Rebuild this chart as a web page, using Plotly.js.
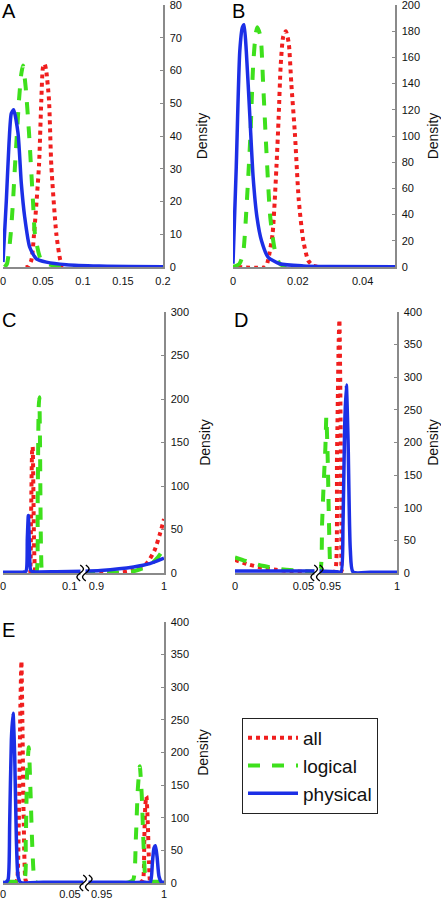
<!DOCTYPE html>
<html>
<head>
<meta charset="utf-8">
<script src="https://cdn.plot.ly/plotly-3.0.1.min.js"></script>
<style>html,body{margin:0;padding:0;background:#fff;}#chart{width:441px;height:899px;}</style>
</head>
<body>
<div id="chart"></div>
<script>
// ---- Series names ----
const seriesNames = ["all", "logical", "physical"];

// ---- Panel A (x 0..0.2, y 0..80) ----
const A_all_x = [0.028, 0.031, 0.0354, 0.0388, 0.045, 0.0479, 0.05, 0.052, 0.054, 0.0575, 0.0604, 0.0667, 0.0717, 0.075, 0.08];
const A_all_y = [0, 0, 2, 10, 31, 51, 61, 62, 60, 51, 31, 10, 2, 0, 0];
const A_log_x = [0.002, 0.005, 0.0096, 0.0125, 0.015, 0.0175, 0.02, 0.0229, 0.025, 0.0283, 0.0325, 0.0375, 0.04, 0.048, 0.0625, 0.09];
const A_log_y = [0, 1, 10, 20, 31, 41, 51, 59, 61.5, 55, 41, 20, 10, 2, 0.5, 0];
const A_phy_x = [0, 0.0042, 0.0075, 0.0104, 0.0133, 0.0188, 0.0229, 0.0271, 0.0333, 0.0417, 0.0542, 0.0792, 0.12, 0.2];
const A_phy_y = [1.5, 20.4, 37.7, 46.9, 48, 40.8, 25.5, 15.3, 6.1, 2.5, 1.5, 0.7, 0.3, 0.1];

// ---- Panel B (x 0..0.05, y 0..200) ----
const B_all_x = [0.0015, 0.0100, 0.0108, 0.0122, 0.0134, 0.0141, 0.0147, 0.0155, 0.0163, 0.0172, 0.018, 0.0191, 0.0203, 0.0217, 0.0232, 0.0247, 0.0268];
const B_all_y = [0, 0, 5, 25, 76, 115, 153, 176, 180, 171, 140, 102, 51, 20, 5, 1, 0];
const B_log_x = [0, 0.002, 0.0031, 0.0043, 0.0054, 0.0062, 0.007, 0.0075, 0.0085, 0.0093, 0.0103, 0.0115, 0.0129, 0.0144, 0.0165];
const B_log_y = [0, 2.5, 10, 51, 102, 153, 178, 183, 176, 140, 89, 38, 13, 2.5, 0];
const B_phy_x = [0, 0.001, 0.0021, 0.0029, 0.0034, 0.0041, 0.0052, 0.0062, 0.0074, 0.0088, 0.0108, 0.0144, 0.0217, 0.03, 0.05];
const B_phy_y = [2.5, 76, 165, 183, 185, 165, 115, 69, 38, 20, 7.6, 2.5, 0.8, 0.4, 0.2];

// ---- Panel C (broken x: 0..0.12 | 0.88..1, y 0..300) ----
const C_all_lx = [0.038, 0.040, 0.042, 0.0437, 0.0445, 0.0455, 0.047, 0.049, 0.052];
const C_all_ly = [0, 0, 60, 140, 145, 100, 20, 0, 0];
const C_log_lx = [0.047, 0.050, 0.052, 0.0535, 0.0545, 0.0555, 0.057, 0.059, 0.062];
const C_log_ly = [0, 0, 80, 190, 202, 150, 30, 0, 0];
const C_phy_lx = [0, 0.03, 0.0345, 0.0365, 0.038, 0.0395, 0.0416, 0.045, 0.08, 0.12];
const C_phy_ly = [1, 1, 2, 40, 66, 35, 3, 1.5, 1.5, 2];
const C_all_rx = [0.88, 0.93, 0.955, 0.974, 0.986, 0.994, 1];
const C_all_ry = [0, 0, 3, 10.7, 26, 45, 62];
const C_log_rx = [0.88, 0.93, 0.955, 0.979, 0.991, 1];
const C_log_ry = [0, 0.5, 2, 9, 18, 28];
const C_phy_rx = [0.88, 0.906, 0.955, 0.979, 1];
const C_phy_ry = [2, 3, 7, 10.7, 17];

// ---- Panel D (broken x: 0..0.06 | 0.94..1, y 0..400) ----
const D_all_lx = [0, 0.01, 0.02, 0.03, 0.04, 0.05, 0.06];
const D_all_ly = [20, 13, 8, 5, 3, 2, 1.5];
const D_log_lx = [0, 0.01, 0.02, 0.03, 0.04, 0.05, 0.06];
const D_log_ly = [24, 17, 11, 7, 4.5, 3, 2];
const D_phy_lx = [0, 0.03, 0.06];
const D_phy_ly = [3, 3, 3];
const D_all_rx = [0.952, 0.9538, 0.955, 0.9563, 0.9568, 0.9575, 0.9583, 0.959, 0.961];
const D_all_ry = [0, 4, 178, 357, 388, 280, 75, 1, 0];
const D_log_rx = [0.94, 0.9425, 0.9438, 0.945, 0.9463, 0.947, 0.948, 0.949, 0.95, 0.951, 0.955];
const D_log_ry = [2, 5, 75, 137, 193, 240, 178, 75, 9, 0, 0];
const D_phy_rx = [0.94, 0.955, 0.958, 0.9595, 0.9608, 0.962, 0.9633, 0.965, 0.967, 0.98, 1];
const D_phy_ry = [3, 2, 1.5, 75, 229, 288, 203, 35, 1.5, 1, 1];

// ---- Panel E (broken x: 0..0.062 | 0.9375..1, y 0..400) ----
const E_all_lx = [0.009, 0.0105, 0.0118, 0.013, 0.01375, 0.0145, 0.0155, 0.0168, 0.018];
const E_all_ly = [0, 5, 92, 271, 340, 245, 92, 5, 0];
const E_log_lx = [0.002, 0.006, 0.0155, 0.017, 0.018, 0.01925, 0.0205, 0.022, 0.0238, 0.026];
const E_log_ly = [2, 2, 2.5, 66, 169, 208, 143, 51, 2.5, 0];
const E_phy_lx = [0, 0.002, 0.00375, 0.005, 0.00625, 0.0075, 0.00875, 0.01, 0.01125, 0.013, 0.03, 0.062];
const E_phy_ly = [1, 1, 5, 92, 220, 260, 194, 66, 10, 1, 1, 1];
const E_all_rx = [0.981, 0.9832, 0.9842, 0.985, 0.9859, 0.987, 0.988, 0.9891, 0.991];
const E_all_ry = [0, 5, 66, 118, 133, 92, 31, 1, 0];
const E_log_rx = [0.97, 0.9753, 0.9774, 0.979, 0.9806, 0.9822, 0.9838, 0.9859, 0.99, 0.995, 0.998];
const E_log_ry = [0, 5, 66, 143, 179, 133, 51, 2.5, 2, 2, 0];
const E_phy_rx = [0.9375, 0.96, 0.985, 0.9891, 0.9907, 0.992, 0.9931, 0.9944, 0.996, 0.9979, 1];
const E_phy_ry = [1, 1, 1, 1.5, 31, 54, 57, 41, 10, 1.5, 1];

// ---- Tick labels ----
const A_xticks = [0, 0.05, 0.1, 0.15, 0.2];
const B_xticks = [0, 0.02, 0.04];
const C_lticks = [0, 0.1], C_rticks = [0.9, 1];
const D_lticks = [0, 0.05], D_rticks = [0.95, 1];
const E_lticks = [0, 0.05], E_rticks = [0.95, 1];

// ---- styles ----
const styles = {
  all: {color: '#f01e1e', dash: 'dot', width: 4},
  logical: {color: '#3ee01c', dash: 'dash', width: 4},
  physical: {color: '#1c2fe6', dash: 'solid', width: 3.5}
};

const traces = [];
function add(name, x, y, xa, ya, legend) {
  traces.push({
    type: 'scatter', mode: 'lines', name: name, x: x, y: y,
    xaxis: xa, yaxis: ya, legendgroup: name, showlegend: !!legend,
    line: {color: styles[name].color, dash: styles[name].dash, width: styles[name].width, shape: 'spline', smoothing: 0.6},
    hoverinfo: 'x+y'
  });
}
// A
add('all', A_all_x, A_all_y, 'x', 'y', true);
add('logical', A_log_x, A_log_y, 'x', 'y', true);
add('physical', A_phy_x, A_phy_y, 'x', 'y', true);
// B
add('all', B_all_x, B_all_y, 'x2', 'y2');
add('logical', B_log_x, B_log_y, 'x2', 'y2');
add('physical', B_phy_x, B_phy_y, 'x2', 'y2');
// C
add('all', C_all_lx, C_all_ly, 'x3', 'y3');
add('logical', C_log_lx, C_log_ly, 'x3', 'y3');
add('physical', C_phy_lx, C_phy_ly, 'x3', 'y3');
add('all', C_all_rx, C_all_ry, 'x4', 'y3');
add('logical', C_log_rx, C_log_ry, 'x4', 'y3');
add('physical', C_phy_rx, C_phy_ry, 'x4', 'y3');
// D
add('all', D_all_lx, D_all_ly, 'x5', 'y4');
add('logical', D_log_lx, D_log_ly, 'x5', 'y4');
add('physical', D_phy_lx, D_phy_ly, 'x5', 'y4');
add('all', D_all_rx, D_all_ry, 'x6', 'y4');
add('logical', D_log_rx, D_log_ry, 'x6', 'y4');
add('physical', D_phy_rx, D_phy_ry, 'x6', 'y4');
// E
add('all', E_all_lx, E_all_ly, 'x7', 'y5');
add('logical', E_log_lx, E_log_ly, 'x7', 'y5');
add('physical', E_phy_lx, E_phy_ly, 'x7', 'y5');
add('all', E_all_rx, E_all_ry, 'x8', 'y5');
add('logical', E_log_rx, E_log_ry, 'x8', 'y5');
add('physical', E_phy_rx, E_phy_ry, 'x8', 'y5');

const W = 441, H = 899;
const px = v => v / W;
const py = v => 1 - v / H;
const FONT = 'Liberation Sans, Arial, sans-serif';
const axisCol = '#8a8a8a';

function xax(domL, domR, range, tickvals, anchor, standoff) {
  return {
    domain: [px(domL), px(domR)], range: range, anchor: anchor,
    tickmode: 'array', tickvals: tickvals, ticktext: tickvals.map(String),
    showgrid: false, zeroline: false, showline: true, linecolor: axisCol, linewidth: 1.5,
    ticks: '', ticklabelstandoff: standoff, ticklabeloverflow: 'allow',
    tickfont: {family: FONT, size: 11, color: '#111'},
    fixedrange: true
  };
}
function yax(top, bot, range, dtick, anchor, standoff) {
  return {
    domain: [py(bot), py(top)], range: range, anchor: anchor, side: 'right',
    dtick: dtick, tick0: 0, showgrid: false, zeroline: false, showline: true,
    linecolor: axisCol, linewidth: 1.5, ticks: 'inside', ticklen: 3, tickcolor: axisCol,
    ticklabelstandoff: 3, ticklabeloverflow: 'allow',
    tickfont: {family: FONT, size: 11, color: '#111'},
    title: {text: 'Density', font: {family: FONT, size: 14, color: '#111'}, standoff: standoff},
    fixedrange: true
  };
}

const layout = {
  width: W, height: H,
  margin: {l: 0, r: 0, t: 0, b: 0},
  paper_bgcolor: '#fff', plot_bgcolor: 'rgba(0,0,0,0)',
  font: {family: FONT, color: '#111'},
  showlegend: true,
  legend: {
    x: px(242), y: py(718), xanchor: 'left', yanchor: 'top',
    bordercolor: '#222', borderwidth: 1, bgcolor: '#fff',
    font: {family: FONT, size: 19, color: '#111'},
    itemwidth: 50, tracegroupgap: 0, traceorder: 'normal'
  },
  xaxis: xax(3, 163, [0, 0.2], A_xticks, 'y', 3),
  yaxis: yax(5, 267, [0, 80], 10, 'x', 16),
  xaxis2: xax(233, 395, [0, 0.05], B_xticks, 'y2', 3),
  yaxis2: yax(5, 267, [0, 200], 20, 'x2', 10),
  xaxis3: xax(3, 83, [0, 0.12], C_lticks, 'y3', 2),
  xaxis4: xax(83, 164, [0.88, 1], C_rticks, 'y3', 2),
  yaxis3: yax(312, 573, [0, 300], 50, 'x4', 12),
  xaxis5: xax(235, 317, [0, 0.06], D_lticks, 'y4', 2),
  xaxis6: xax(317, 397, [0.94, 1], D_rticks, 'y4', 2),
  yaxis4: yax(312, 573, [0, 400], 50, 'x6', 10),
  xaxis7: xax(3, 86, [0, 0.062], E_lticks, 'y5', 0),
  xaxis8: xax(86, 164, [0.9375, 1], E_rticks, 'y5', 0),
  yaxis5: yax(622, 883, [0, 400], 50, 'x8', 10),
  annotations: [],
  shapes: []
};

// Panel letters
const letters = [['A', 0, -2], ['B', 230, -2], ['C', 0, 307], ['D', 232, 307], ['E', 0, 617]];
letters.forEach(l => layout.annotations.push({
  text: l[0], xref: 'paper', yref: 'paper', x: px(l[1]), y: py(l[2]),
  xanchor: 'left', yanchor: 'top', showarrow: false,
  font: {family: FONT, size: 20, color: '#000'}
}));

// Axis break markers: two wavy vertical strokes over a white gap
function wave(cx, cy) {
  const h = 8, a = 2.2;
  const p = (x, y) => px(x).toFixed(5) + ',' + py(y).toFixed(5);
  return 'M' + p(cx, cy - h) +
    ' C' + p(cx + a * 2, cy - h * 0.6) + ' ' + p(cx + a * 2, cy - h * 0.4) + ' ' + p(cx, cy) +
    ' C' + p(cx - a * 2, cy + h * 0.4) + ' ' + p(cx - a * 2, cy + h * 0.6) + ' ' + p(cx, cy + h);
}
const breaks = [[83, 573], [317, 573], [86, 883]];
breaks.forEach(b => {
  layout.shapes.push({type: 'rect', xref: 'paper', yref: 'paper', layer: 'above',
    x0: px(b[0] - 2.5), x1: px(b[0] + 2.5), y0: py(b[1] + 5), y1: py(b[1] - 5),
    fillcolor: '#fff', line: {width: 0}});
  [-2.8, 2.8].forEach(dx => layout.shapes.push({type: 'path', xref: 'paper', yref: 'paper',
    layer: 'above', path: wave(b[0] + dx, b[1]), line: {color: '#000', width: 1.3}}));
});

Plotly.newPlot('chart', traces, layout, {displayModeBar: false, staticPlot: true});
</script>
</body>
</html>
